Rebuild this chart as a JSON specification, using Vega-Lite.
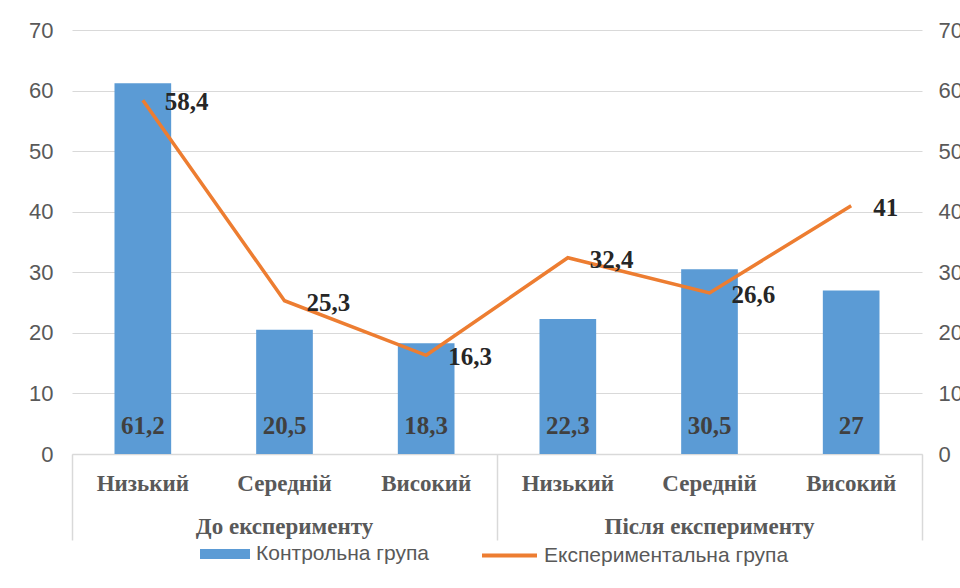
{
  "$schema": "https://vega.github.io/schema/vega-lite/v6.json",
  "width": 850,
  "height": 424,
  "autosize": {"type": "none"},
  "padding": {"left": 72, "top": 30, "right": 38, "bottom": 134},
  "background": "white",
  "config": {
    "view": {"stroke": null},
    "locale": {"number": {"decimal": ",", "thousands": " ", "grouping": [3], "currency": ["", ""]}},
    "axis": {"labelColor": "#595959", "domainColor": "#d9d9d9", "gridColor": "#d9d9d9", "title": null}
  },
  "data": {
    "values": [
      {"id": "До|Низький", "group": "До експерименту", "control": 61.2, "exp": 58.4},
      {"id": "До|Середній", "group": "До експерименту", "control": 20.5, "exp": 25.3},
      {"id": "До|Високий", "group": "До експерименту", "control": 18.3, "exp": 16.3},
      {"id": "Після|Низький", "group": "Після експерименту", "control": 22.3, "exp": 32.4},
      {"id": "Після|Середній", "group": "Після експерименту", "control": 30.5, "exp": 26.6},
      {"id": "Після|Високий", "group": "Після експерименту", "control": 27, "exp": 41}
    ]
  },
  "layer": [
    {
      "encoding": {
        "x": {
          "field": "id", "type": "nominal", "sort": null,
          "scale": {"paddingInner": 0.6, "paddingOuter": 0.3},
          "axis": {
            "orient": "bottom",
            "labelExpr": "split(datum.label, '|')[1]",
            "labelAngle": 0, "ticks": false, "domain": true, "domainWidth": 1.5,
            "labelFont": "Liberation Serif", "labelFontWeight": "bold", "labelFontSize": 23,
            "labelPadding": 18, "labelBaseline": "top", "labelLimit": 300
          }
        }
      },
      "layer": [
        {
          "mark": {"type": "bar", "color": "#5B9BD5"},
          "encoding": {
            "y": {
              "field": "control", "type": "quantitative",
              "scale": {"domain": [0, 70]},
              "axis": {
                "values": [0, 10, 20, 30, 40, 50, 60, 70], "grid": true, "domain": false, "ticks": false,
                "labelFont": "Liberation Sans", "labelFontSize": 22, "labelPadding": 19
              }
            },
            "fill": {"datum": "Контрольна група", "type": "nominal",
              "scale": {"range": ["#5B9BD5"]},
              "legend": {
                "orient": "none", "legendX": 128, "legendY": 499, "title": null,
                "symbolType": "M-1,-0.2H1V0.2H-1Z", "symbolSize": 2500, "symbolStrokeWidth": 0,
                "labelFont": "Liberation Sans", "labelFontSize": 21, "labelColor": "#595959", "labelOffset": 6, "labelLimit": 400
              }
            }
          }
        },
        {
          "mark": {"type": "text", "font": "Liberation Serif", "fontWeight": "bold", "fontSize": 25, "color": "#404040", "baseline": "bottom", "dy": -15},
          "encoding": {
            "y": {"datum": 0, "type": "quantitative"},
            "text": {"field": "control", "type": "quantitative", "format": ".3~r"}
          }
        }
      ]
    },
    {
      "encoding": {
        "x": {"field": "id", "type": "nominal", "sort": null,
          "scale": {"paddingInner": 0.6, "paddingOuter": 0.3}, "axis": null}
      },
      "layer": [
        {
          "mark": {"type": "line", "color": "#ED7D31", "strokeWidth": 3.5},
          "encoding": {
            "y": {
              "field": "exp", "type": "quantitative",
              "scale": {"domain": [0, 70]},
              "axis": {
                "orient": "right", "values": [0, 10, 20, 30, 40, 50, 60, 70], "grid": false, "domain": false, "ticks": false,
                "labelFont": "Liberation Sans", "labelFontSize": 22, "labelPadding": 16
              }
            },
            "stroke": {"datum": "Експериментальна група", "type": "nominal",
              "scale": {"range": ["#ED7D31"]},
              "legend": {
                "orient": "none", "legendX": 408, "legendY": 496, "title": null,
                "symbolType": "stroke", "symbolSize": 3025, "symbolStrokeWidth": 4,
                "labelFont": "Liberation Sans", "labelFontSize": 21, "labelColor": "#595959", "labelOffset": 5, "labelLimit": 400
              }
            }
          }
        },
        {
          "mark": {"type": "text", "font": "Liberation Serif", "fontWeight": "bold", "fontSize": 25, "color": "#262626", "align": "left", "baseline": "middle", "dx": 22, "dy": 2},
          "encoding": {
            "y": {"field": "exp", "type": "quantitative"},
            "text": {"field": "exp", "type": "quantitative", "format": ".3~r"}
          }
        }
      ]
    },
    {
      "mark": {"type": "bar", "opacity": 0},
      "encoding": {
        "x": {
          "field": "group", "type": "nominal", "sort": null,
          "scale": {"paddingInner": 0, "paddingOuter": 0},
          "axis": {
            "orient": "bottom", "offset": 0,
            "labelAngle": 0, "domain": false, "ticks": true, "bandPosition": 1, "tickExtra": true,
            "tickSize": 86, "tickColor": "#d9d9d9", "tickWidth": 1.5,
            "labelFont": "Liberation Serif", "labelFontWeight": "bold", "labelFontSize": 23,
            "labelPadding": -25, "labelBaseline": "top", "labelColor": "#595959", "labelLimit": 400
          }
        }
      }
    }
  ],
  "resolve": {"scale": {"x": "independent", "y": "independent", "fill": "independent", "stroke": "independent"}}
}
